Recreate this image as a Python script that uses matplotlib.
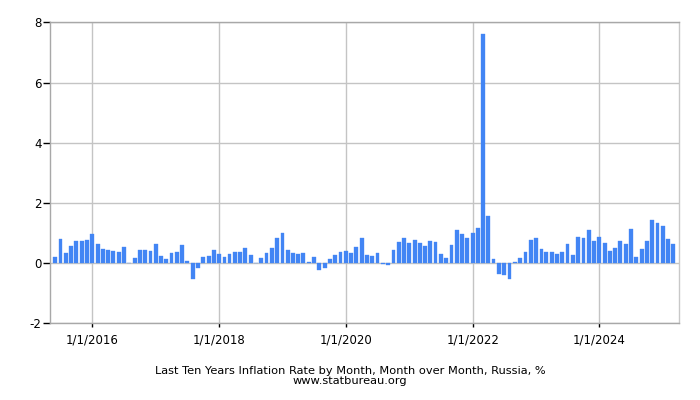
import matplotlib
matplotlib.use("Agg")
import matplotlib.pyplot as plt
import numpy as np
import pandas as pd

start_month = "2015-06-01"
values = [
    # 2015 Jun-Dec
    0.19, 0.80, 0.35, 0.57, 0.74, 0.75, 0.77,
    # 2016
    0.96, 0.63, 0.46, 0.44, 0.41, 0.36, 0.54, 0.01, 0.17, 0.43, 0.44, 0.40,
    # 2017
    0.62, 0.22, 0.13, 0.33, 0.37, 0.61, 0.07, -0.54, -0.15, 0.20, 0.22, 0.42,
    # 2018
    0.31, 0.21, 0.29, 0.38, 0.38, 0.49, 0.27, 0.01, 0.16, 0.35, 0.50, 0.84,
    # 2019
    1.01, 0.44, 0.32, 0.29, 0.34, 0.04, 0.20, -0.24, -0.16, 0.13, 0.28, 0.36,
    # 2020
    0.40, 0.33, 0.55, 0.83, 0.27, 0.22, 0.35, -0.04, -0.07, 0.43, 0.71, 0.83,
    # 2021
    0.67, 0.78, 0.66, 0.58, 0.74, 0.69, 0.31, 0.17, 0.60, 1.11, 0.96, 0.82,
    # 2022
    0.99, 1.17, 7.61, 1.56, 0.12, -0.35, -0.39, -0.52, 0.05, 0.18, 0.37, 0.78,
    # 2023
    0.84, 0.46, 0.37, 0.38, 0.31, 0.37, 0.63, 0.28, 0.87, 0.83, 1.11, 0.73,
    # 2024
    0.86, 0.68, 0.39, 0.50, 0.74, 0.64, 1.14, 0.20, 0.48, 0.75, 1.43, 1.32,
    # 2025
    1.23, 0.81, 0.65,
]
months = pd.date_range(start_month, periods=len(values), freq="MS")
tick_dates = pd.to_datetime(["2016-01-01", "2018-01-01", "2020-01-01", "2022-01-01", "2024-01-01"])
tick_labels = ["1/1/2016", "1/1/2018", "1/1/2020", "1/1/2022", "1/1/2024"]
y_ticks = [-2, 0, 2, 4, 6, 8]
title = "Last Ten Years Inflation Rate by Month, Month over Month, Russia, %"
source = "www.statbureau.org"

plt.rcParams["font.family"] = ["DejaVu Sans"]
plt.rcParams["axes.unicode_minus"] = False

fig = plt.figure(figsize=(7, 4), dpi=100)
ax = fig.add_axes([50 / 700, 1 - 323.3 / 400, (678.7 - 50) / 700, (323.3 - 22.3) / 400])

ax.bar(months, values, width=22, color="#4285F4", edgecolor="#4285F4",
       linewidth=0.25, zorder=3, align="center")

ax.set_xlim(pd.Timestamp("2015-05-02"), pd.Timestamp("2025-04-02"))
ax.set_ylim(-2, 8)
ax.set_yticks(y_ticks)
ax.set_yticklabels([str(v) for v in y_ticks])
ax.set_xticks(tick_dates)
ax.set_xticklabels(tick_labels)

ax.grid(True, color="#c4c4c4", linewidth=1.0, zorder=0)
for s in ["top", "left", "bottom"]:
    ax.spines[s].set_color("#a8a8a8")
    ax.spines[s].set_linewidth(1.0)
ax.spines["right"].set_color("#c8c8c8")
ax.spines["right"].set_linewidth(1.0)

ax.tick_params(axis="y", length=5, width=1, color="black", pad=1, labelsize=8.5)
ax.tick_params(axis="x", length=3, width=1, color="black", pad=4, labelsize=8.5)

fig.text(0.5, 1 - 370.7 / 400, title, ha="center", va="center", fontsize=8.2)
fig.text(0.5, 1 - 380.5 / 400, source, ha="center", va="center", fontsize=8.2)

fig.savefig("out.png", dpi=100)
